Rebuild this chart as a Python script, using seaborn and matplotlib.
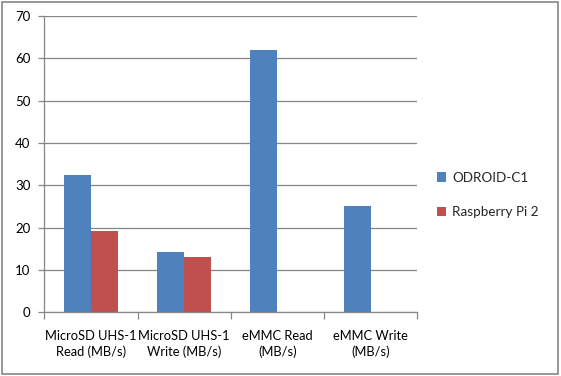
import pandas as pd
import numpy as np
import seaborn as sns
from matplotlib import pyplot as plt
from matplotlib.ticker import FixedLocator

categories = ["MicroSD UHS-1\nRead (MB/s)", "MicroSD UHS-1\nWrite (MB/s)",
              "eMMC Read\n(MB/s)", "eMMC Write\n(MB/s)"]
odroid = [32.5, 14.2, 62.0, 25.1]
raspi = [19.2, 13.0, np.nan, np.nan]
series = ["ODROID-C1", "Raspberry Pi 2"]

df = pd.DataFrame({
    "category": categories * 2,
    "device": [series[0]] * 4 + [series[1]] * 4,
    "speed": odroid + raspi,
})

sns.set_theme(style="white")
plt.rcParams["font.family"] = ["Lato", "DejaVu Sans"]

grey = "#868686"
fig = plt.figure(figsize=(5.61, 3.76), dpi=100)
ax = fig.add_axes([0.079, 0.1694, 0.665, 0.7876])

sns.barplot(ax=ax, data=df, x="category", y="speed", hue="device",
            palette=["#4F81BD", "#C0504D"], width=0.58, saturation=1,
            gap=0, linewidth=0, edgecolor="none")

ax.set_xlim(-0.5, 3.5)
ax.set_ylim(0, 70)
ax.set_yticks(range(0, 71, 10))
ax.yaxis.grid(True, color=grey, linewidth=0.9)
ax.set_axisbelow(True)
ax.set_xlabel("")
ax.set_ylabel("")

for side in ["top", "right"]:
    ax.spines[side].set_visible(False)
for side in ["left", "bottom"]:
    ax.spines[side].set_color(grey)
    ax.spines[side].set_linewidth(0.9)

ax.tick_params(axis="y", which="major", length=4, color=grey, width=0.9,
               labelsize=9.5, pad=6, left=True)
ax.tick_params(axis="x", which="major", length=0, labelsize=9.3, pad=13)
ax.xaxis.set_minor_locator(FixedLocator([-0.5, 0.5, 1.5, 2.5, 3.5]))
ax.tick_params(axis="x", which="minor", length=5, color=grey, width=0.9, bottom=True)
for lbl in ax.get_yticklabels() + ax.get_xticklabels():
    lbl.set_color("black")
for lbl in ax.get_xticklabels():
    lbl.set_linespacing(1.3)

leg = ax.legend(loc="center left", bbox_to_anchor=(1.02, 0.396), frameon=False,
                fontsize=9.7, handlelength=0.7, handleheight=0.7,
                handletextpad=0.45, labelspacing=1.65, title=None)

fig.patches.append(plt.Rectangle((0.004, 0.006), 0.991, 0.988, transform=fig.transFigure,
                                 fill=False, edgecolor=grey, linewidth=1.2))

fig.savefig("out.png", dpi=100)
